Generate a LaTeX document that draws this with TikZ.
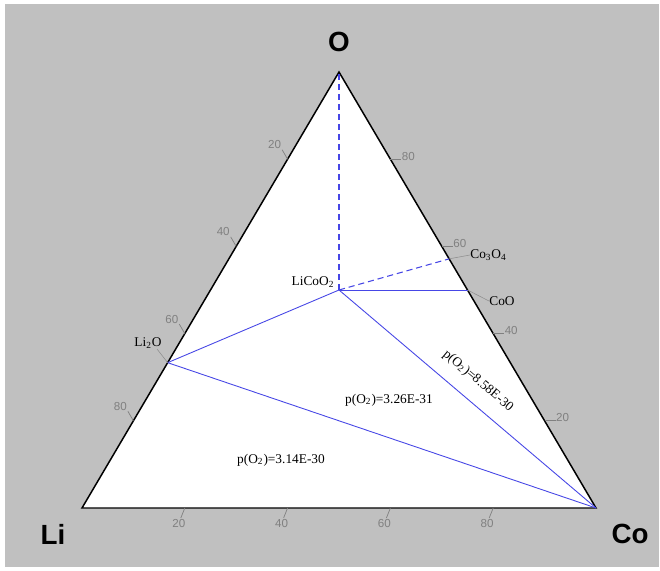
\documentclass[tikz,border=0pt]{standalone}
\usepackage{fontspec}
\setmainfont{Liberation Serif}
\setsansfont{Liberation Sans}
\usetikzlibrary{calc}
\definecolor{panel}{RGB}{192,192,192}
\definecolor{tieblue}{RGB}{70,70,230}
\definecolor{tickgray}{RGB}{128,128,128}
\begin{document}
\begin{tikzpicture}[x=0.02cm, y=-0.02cm,
        tern/.style={draw=black, fill=white, line width=0.85pt, line join=miter},
        tie/.style={draw=tieblue, line width=0.5pt},
        tiedash/.style={tie, line width=0.6pt, dash pattern=on 3.5pt off 2.2pt},
        tickln/.style={draw=tickgray, line width=0.4pt},
        ticklbl/.style={text=tickgray, font=\sffamily\fontsize{6.6}{7}\selectfont, inner sep=0pt},
        elem/.style={font=\sffamily\bfseries\fontsize{15.8}{18}\selectfont, inner sep=0pt},
        phase/.style={font=\fontsize{7.6}{9}\selectfont, inner sep=0pt},
        leader/.style={draw=tickgray!90, line width=0.3pt}
    ]
    \useasboundingbox (0,0) rectangle (660,571);
    \fill[white] (0,0) rectangle (660,571);
    \fill[panel] (5,4) rectangle (659,567);

    % Eckpunkte
    \coordinate (Li) at (82,508);
    \coordinate (Co) at (596,508);
    \coordinate (O)  at (339,72);
    \draw[tern] (Li) -- (Co) -- (O) -- cycle;

    \node[elem] (lblO)  at (339,42)  {O};
    \node[elem] (lblLi) at (53,534)  {Li};
    \node[elem] (lblCo) at (630,534) {Co};

    % Achsen-Ticks
    \foreach \v in {20,40,60,80} {
        \draw[tickln] ($(O)!\v/100!(Li)$) -- ++(-5.5,-9.5);
        \node[ticklbl] at ($(O)!\v/100!(Li)+(-13,-14.5)$) {\v};
        \draw[tickln] ($(Li)!\v/100!(Co)$) -- ++(-4,10);
        \node[ticklbl] at ($(Li)!\v/100!(Co)+(-6,16)$) {\v};
        \draw[tickln] ($(Co)!\v/100!(O)$) -- ++(11,0);
        \node[ticklbl] at ($(Co)!\v/100!(O)+(18,-3)$) {\v};
    }

    % Phasen
    \coordinate (LiCoO2) at (barycentric cs:Li=1,Co=1,O=2);
    \coordinate (Li2O)   at (barycentric cs:Li=2,O=1);
    \coordinate (CoO)    at (barycentric cs:Co=1,O=1);
    \coordinate (Co3O4)  at (barycentric cs:Co=3,O=4);

    % Konoden
    \draw[tie] (LiCoO2) -- (Li2O);
    \draw[tie] (Li2O) -- (Co);
    \draw[tie] (LiCoO2) -- (Co);
    \draw[tie] (LiCoO2) -- (CoO);
    \draw[tiedash] (LiCoO2) -- (O);
    \draw[tiedash] (LiCoO2) -- (Co3O4);

    % Beschriftungen
    \node[phase] (lblLiCoO2) at (313,282) {LiCoO\textsubscript{2}};
    \node[phase] (lblLi2O) at (148,343) {Li\textsubscript{2}O};
    \coordinate (endLi2O) at (157,349);
    \draw[leader] (Li2O) -- (endLi2O);
    \node[phase, anchor=west] (lblCoO) at (489,301) {CoO};
    \draw[leader] (CoO) -- (lblCoO.west);
    \node[phase, anchor=west] (lblCo3O4) at (470,255) {Co\textsubscript{3}O\textsubscript{4}};
    \draw[leader] (Co3O4) -- (lblCo3O4.west);

    \node[phase] (pA) at (281,460) {p(O\textsubscript{2})=3.14E-30};
    \node[phase] (pB) at (389,400) {p(O\textsubscript{2})=3.26E-31};
    \node[phase, rotate=-40.3] (pC) at (478,381) {p(O\textsubscript{2})=8.58E-30};
\end{tikzpicture}
\end{document}
